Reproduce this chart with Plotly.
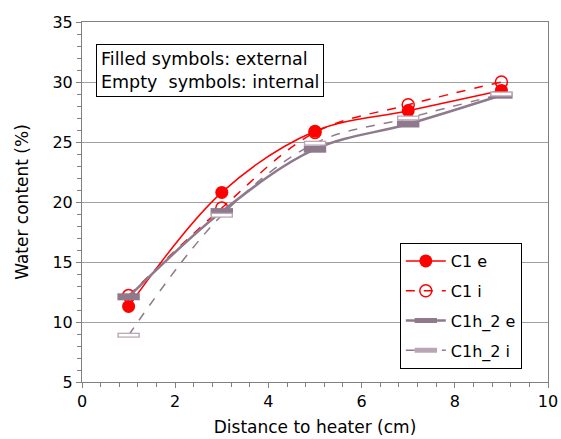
import plotly.graph_objects as go

x = [1, 3, 5, 7, 9]
c1_e = [11.3, 20.8, 25.9, 27.6, 29.3]
c1_i = [12.2, 19.5, 25.8, 28.1, 30.0]
c1h2_e = [12.1, 19.2, 24.4, 26.5, 28.9]
c1h2_i = [8.9, 18.9, 24.9, 27.0, 29.0]

RED = "#ff0000"
GREY = "#8e7a8c"
LGREY = "#b8a6b6"
FONT = "DejaVu Sans"

fig = go.Figure()
fig.add_trace(go.Scatter(x=x, y=c1_e, name="C1 e", mode="lines+markers", legendgroup="a",
                         line=dict(color=RED, width=1.5, shape="spline", smoothing=1),
                         marker=dict(symbol="circle", size=13, color=RED)))
fig.add_trace(go.Scatter(x=x, y=c1_i, name="C1 i", mode="lines+markers", legendgroup="b",
                         line=dict(color=RED, width=1.5, dash="dash", shape="spline", smoothing=1),
                         marker=dict(symbol="circle-open", size=12, color=RED, line=dict(width=1.5))))
fig.add_trace(go.Scatter(x=x, y=c1h2_e, name="C1h_2 e", mode="lines+markers", legendgroup="c",
                         line=dict(color=GREY, width=2.5, shape="spline", smoothing=1),
                         marker=dict(symbol="line-ew", size=16, color=GREY, line=dict(width=7, color=GREY))))
fig.add_trace(go.Scatter(x=x, y=c1h2_i, name="C1h_2 i", mode="lines+markers", legendgroup="d",
                         line=dict(color=GREY, width=1.5, dash="dash", shape="spline", smoothing=1),
                         marker=dict(symbol="line-ew", size=16, color=LGREY, line=dict(width=5, color=LGREY))))
fig.add_trace(go.Scatter(x=x, y=c1h2_i, mode="markers", showlegend=False, hoverinfo="skip", legendgroup="d",
                         marker=dict(symbol="line-ew", size=14, color="white", line=dict(width=2.5, color="white"))))

fig.add_annotation(xref="paper", yref="paper", x=0.03, y=0.939, xanchor="left", yanchor="top",
                   text="Filled symbols: external<br>Empty  symbols: internal", showarrow=False, align="left",
                   font=dict(family=FONT, size=17.5, color="black"),
                   bordercolor="black", borderwidth=1, borderpad=4, bgcolor="white")

fig.update_layout(
    width=561, height=439,
    margin=dict(l=82, r=13, t=22, b=57, autoexpand=False),
    paper_bgcolor="white", plot_bgcolor="white",
    font=dict(family=FONT, size=15, color="black"),
    legend=dict(x=0.682, y=0.386, xanchor="left", yanchor="top", bgcolor="white",
                bordercolor="black", borderwidth=1, font=dict(size=16, family=FONT),
                itemwidth=40, tracegroupgap=6),
    showlegend=True,
)
fig.update_xaxes(range=[0, 10], dtick=2, tick0=0, showgrid=False, zeroline=False, automargin=False,
                 showline=True, linecolor="#808080", linewidth=1, mirror=True,
                 ticks="outside", ticklen=5, tickcolor="#808080",
                 minor=dict(dtick=0.4, ticks="outside", ticklen=4, tickcolor="#808080"),
                 title=dict(text="Distance to heater (cm)", font=dict(size=17), standoff=10),
                 tickfont=dict(size=16))
fig.update_yaxes(range=[5, 35], dtick=5, tick0=5, showgrid=True, gridcolor="#a0a0a0", gridwidth=1,
                 zeroline=False, showline=True, linecolor="#808080", linewidth=1, mirror=True, automargin=False,
                 ticks="outside", ticklen=5, tickcolor="#808080",
                 minor=dict(dtick=1, ticks="outside", ticklen=4, tickcolor="#808080", showgrid=False),
                 title=dict(text="Water content (%)", font=dict(size=17), standoff=19),
                 tickfont=dict(size=16))

fig.write_html("out.html")
